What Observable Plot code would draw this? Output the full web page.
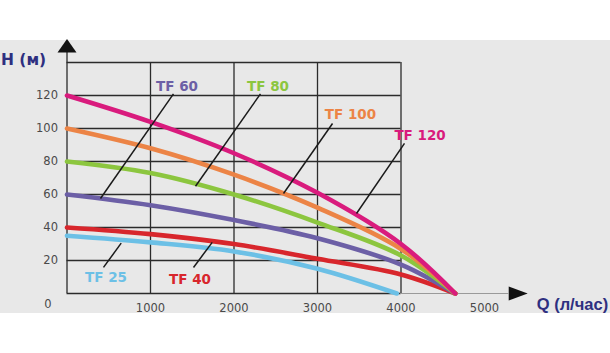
<!DOCTYPE html>
<html>
<head>
<meta charset="utf-8">
<script src="https://cdn.jsdelivr.net/npm/d3@7"></script>
<script src="https://cdn.jsdelivr.net/npm/@observablehq/plot@0.6"></script>
<style>
  html, body { margin: 0; padding: 0; background: #fff; }
  #chart { width: 610px; height: 353px; position: relative;
    background: linear-gradient(to bottom, #ffffff 0px, #ffffff 40px, #e8e8e8 40px, #e8e8e8 313px, #ffffff 313px); }
  #chart svg { position: absolute; left: 0; top: 0; }
</style>
</head>
<body>
<div id="chart"></div>
<script>
// ---- data ----
const seriesNames = ["TF 25", "TF 40", "TF 60", "TF 80", "TF 100", "TF 120"];
const seriesColors = ["#6cc0e6", "#d8262c", "#6c5fa6", "#8cc63f", "#ec8446", "#d91b7d"];
const qMain = [0, 1000, 2000, 3000, 4000, 4650];
const qTF25 = [0, 1000, 2000, 3000, 3950];
const hTF25 = [35, 31, 25.5, 15, 0];
const hTF40 = [40, 36, 30, 21, 11.5, 0];
const hTF60 = [60, 53.5, 44.5, 33.5, 17.5, 0];
const hTF80 = [80, 73, 60, 43, 23, 0];
const hTF100 = [100, 88, 72, 52, 27, 0];
const hTF120 = [120, 104, 85, 61, 30, 0];
const xTickLabels = [1000, 2000, 3000, 4000, 5000];
const yTickLabels = [20, 40, 60, 80, 100, 120];
const xGrid = [0, 1000, 2000, 3000, 4000];
const yGrid = [0, 20, 40, 60, 80, 100, 120, 140];
// label annotations: label centre (Q,H) and leader line from (q1,h1) to (q2,h2)
const labelQ = [467, 1473, 1317, 2407, 3395, 4228];
const labelH = [9.4, 8.5, 125.5, 125.5, 108.5, 95.8];
const leadQ1 = [437, 1515, 1275, 2317, 3180, 4042];
const leadH1 = [15.8, 15.8, 121, 121, 103, 91];
const leadQ2 = [649, 1739, 401, 1539, 2593, 3467];
const leadH2 = [30.5, 31, 57.6, 65, 60.6, 48.5];

const seriesH = [hTF25, hTF40, hTF60, hTF80, hTF100, hTF120];
const curves = seriesNames.map((name, i) => {
  const qs = i === 0 ? qTF25 : qMain;
  return qs.map((q, j) => ({name, q, h: seriesH[i][j]}));
});
const labels = seriesNames.map((name, i) => ({
  name, color: seriesColors[i], q: labelQ[i], h: labelH[i],
  q1: leadQ1[i], h1: leadH1[i], q2: leadQ2[i], h2: leadH2[i]
}));

const upTri = { draw(ctx) { ctx.moveTo(0, -13.5); ctx.lineTo(9.5, 0); ctx.lineTo(-9.5, 0); ctx.closePath(); } };
const rightTri = { draw(ctx) { ctx.moveTo(19, 0); ctx.lineTo(0, -7); ctx.lineTo(0, 7); ctx.closePath(); } };

const font = "DejaVu Sans, sans-serif";
const titleFont = "Liberation Sans, Arial, sans-serif";
const plot = Plot.plot({
  width: 610,
  height: 353,
  marginLeft: 66.5,
  marginRight: 126,
  marginTop: 62,
  marginBottom: 60,
  style: {background: "transparent", fontFamily: font, overflow: "visible"},
  x: {domain: [0, 5000]},
  y: {domain: [0, 140]},
  marks: [
    // grid
    Plot.ruleY(yGrid, {y: d => d, x1: 0, x2: 4000, stroke: "#2b2b2b", strokeWidth: 1.3}),
    Plot.ruleX(xGrid, {x: d => d, y1: 0, y2: 140, stroke: "#2b2b2b", strokeWidth: 1.3}),
    Plot.ruleX([0], {x: d => d, y1: 140, y2: 146, stroke: "#2b2b2b", strokeWidth: 1.3}),
    Plot.ruleY([0], {y: d => d, x1: 4000, x2: 5290, stroke: "#9a9a9a", strokeWidth: 1}),
    // axis arrows
    Plot.dot([0], {x: 0, y: 146, symbol: upTri, r: 5, fill: "#111", stroke: "none"}),
    Plot.dot([0], {x: 5290, y: 0, symbol: rightTri, r: 5, fill: "#111", stroke: "none"}),
    // ticks
    Plot.axisX(xTickLabels, {anchor: "bottom", tickSize: 0, tickPadding: 10, fontSize: 11.5, fill: "#4a4a4a", tickFormat: d => String(d), label: null}),
    Plot.axisY(yTickLabels, {anchor: "left", tickSize: 0, tickPadding: 9, fontSize: 11.5, fill: "#4a4a4a", tickFormat: d => String(d), label: null}),
    Plot.text([0], {x: 0, y: 0, text: d => String(d), dx: -19, dy: 11, fontSize: 11.5, fill: "#4a4a4a"}),
    // curves
    ...curves.map((c, i) => Plot.line(c, {x: "q", y: "h", stroke: seriesColors[i], strokeWidth: 4.6, curve: "catmull-rom", strokeLinecap: "round"})),
    // leaders and labels
    Plot.link(labels, {x1: "q1", y1: "h1", x2: "q2", y2: "h2", stroke: "#1a1a1a", strokeWidth: 1.5}),
    Plot.text(labels, {x: "q", y: "h", text: "name", fill: "color", fontSize: 13.5, fontWeight: "bold", fontFamily: font, style: "letter-spacing:0.6px"}),
    // axis titles
    Plot.text(["H (м)"], {x: 0, y: 146, text: d => d, dx: -66, dy: 7, textAnchor: "start", fontSize: 15.5, fontWeight: "bold", fill: "#2e2f80"}),
    Plot.text(["Q (л/час)"], {x: 5290, y: 0, text: d => d, dx: 28, dy: 11, textAnchor: "start", fontSize: 16.5, fontWeight: "bold", fontFamily: titleFont, fill: "#2e2f80"})
  ]
});
document.getElementById("chart").appendChild(plot);
</script>
</body>
</html>
